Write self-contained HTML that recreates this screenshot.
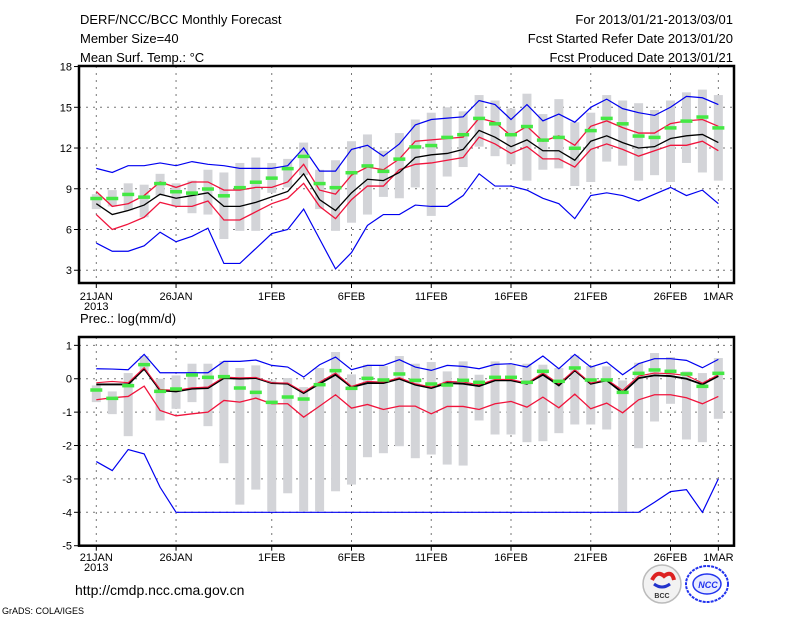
<!DOCTYPE html>
<html><head><meta charset="utf-8"><style>
html,body{margin:0;padding:0;background:#fff;}
svg{display:block;font-family:"Liberation Sans",sans-serif;}
</style></head><body>
<svg id="chart" width="800" height="618" viewBox="0 0 800 618" xmlns="http://www.w3.org/2000/svg">
<text x="80" y="24" font-size="13">DERF/NCC/BCC Monthly Forecast</text>
<text x="80" y="43" font-size="13">Member Size=40</text>
<text x="80" y="62" font-size="13">Mean Surf. Temp.: °C</text>
<text x="733" y="24" font-size="13" text-anchor="end">For 2013/01/21-2013/03/01</text>
<text x="733" y="43" font-size="13" text-anchor="end">Fcst Started Refer Date 2013/01/20</text>
<text x="733" y="62" font-size="13" text-anchor="end">Fcst Produced Date 2013/01/21</text>
<text x="80" y="323" font-size="13">Prec.: log(mm/d)</text>
<text x="75" y="595" font-size="14">http://cmdp.ncc.cma.gov.cn</text>
<text x="2" y="614" font-size="9">GrADS: COLA/IGES</text>
<g>
<circle cx="662" cy="584" r="19" fill="#f2f2f2" stroke="#bbb" stroke-width="1.5"/>
<path d="M652 580 q5 -10 12 -4 q8 -6 10 4" fill="none" stroke="#d22" stroke-width="4"/>
<path d="M654 584 q8 6 16 0" fill="none" stroke="#23c" stroke-width="3"/>
<text x="662" y="598" font-size="7" font-weight="bold" text-anchor="middle" fill="#333">BCC</text>
</g>
<g>
<ellipse cx="707" cy="584" rx="21" ry="18" fill="none" stroke="#23e" stroke-width="2" stroke-dasharray="3,1"/>
<ellipse cx="707" cy="584" rx="14" ry="10" fill="#e8ebff" stroke="#23e" stroke-width="1.5"/>
<text x="708" y="588" font-size="9" font-weight="bold" font-style="italic" text-anchor="middle" fill="#23e">NCC</text>
</g>
</svg>
<script>
const days = ["21JAN","26JAN","1FEB","6FEB","11FEB","16FEB","21FEB","26FEB","1MAR"];
const dayIdx = [0,5,11,16,21,26,31,36,39];
const tTicks = [18,15,12,9,6,3];
const pTicks = [1,0,-1,-2,-3,-4,-5];
const tUpperBlue = [10.5,10.2,10.7,10.7,10.9,10.7,11.0,10.8,10.7,10.5,10.5,10.5,10.7,12.0,10.3,10.3,11.9,12.2,11.4,12.3,13.7,14.1,14.2,14.3,15.5,15.2,14.1,15.2,14.0,14.5,13.9,15.0,15.6,14.9,14.6,14.4,15.0,15.8,15.7,15.2];
const tLowerBlue = [5.0,4.4,4.4,4.8,5.8,5.1,5.5,6.1,3.5,3.5,4.6,5.7,6.0,7.5,5.3,3.1,4.3,6.3,7.1,7.1,7.8,7.7,7.7,8.5,10.1,9.2,9.2,8.9,8.3,7.9,6.8,8.5,8.7,8.5,8.1,8.6,9.1,8.5,8.9,7.9];
const tMean = [7.9,7.1,7.4,7.8,8.6,8.3,8.5,8.7,7.7,7.7,8.0,8.4,8.8,10.1,8.2,7.4,8.7,9.7,9.6,10.2,11.3,11.5,11.6,11.9,13.3,12.8,12.1,12.6,11.8,11.8,11.1,12.5,12.9,12.4,12.0,12.1,12.7,12.9,13.0,12.4];
const tUpperRed = [8.8,7.7,7.9,8.5,9.5,9.1,9.5,9.5,8.9,8.9,9.1,9.1,9.5,10.8,8.9,8.6,10.0,10.6,10.4,11.2,12.5,12.6,12.7,12.8,14.2,13.9,12.9,13.6,12.5,12.9,12.2,13.6,14.0,13.5,13.1,13.1,13.8,14.0,14.1,13.6];
const tLowerRed = [7.1,6.0,6.4,6.9,8.0,7.7,7.7,8.1,6.7,6.7,7.3,7.9,8.3,9.4,7.7,6.8,8.2,9.2,9.2,10.4,10.8,10.9,11.1,11.3,12.8,12.3,11.6,12.1,11.2,11.2,10.6,11.9,12.3,11.9,11.4,11.8,12.2,12.2,12.5,11.8];
const tObs = [8.3,8.3,8.6,8.4,9.4,8.8,8.7,9.0,8.5,9.1,9.5,9.8,10.5,11.4,9.4,9.1,10.2,10.7,10.3,11.2,12.1,12.2,12.8,13.0,14.2,13.8,13.0,13.6,12.6,12.8,12.0,13.3,14.2,13.8,12.9,12.8,13.5,14.0,14.3,13.5];
const tMax = [8.6,8.9,9.4,9.3,10.1,9.4,9.6,10.4,10.2,10.9,11.3,10.9,11.2,12.4,10.4,11.1,12.5,13.0,11.8,13.1,14.1,14.6,15.0,14.7,15.9,15.5,14.9,16.0,14.5,15.6,13.9,14.6,15.9,15.5,15.3,14.8,15.5,16.1,16.3,15.9];
const tMin = [7.5,7.7,7.4,6.9,8.5,7.7,7.2,7.1,5.3,5.9,5.9,8.7,9.1,10.0,7.5,5.9,6.5,7.1,8.4,8.3,9.1,7.0,9.9,10.6,12.1,11.4,10.8,9.6,10.4,10.5,9.2,9.5,11.0,10.7,9.6,10.0,9.5,10.9,10.2,9.6];
const pUpperBlue = [0.30,0.29,0.27,0.73,0.18,0.18,0.18,0.18,0.52,0.52,0.56,0.40,0.35,0.05,0.42,0.65,0.27,0.40,0.40,0.57,0.35,0.25,0.40,0.37,0.30,0.43,0.45,0.35,0.68,0.30,0.73,0.35,0.50,0.12,0.45,0.60,0.60,0.55,0.33,0.58];
const pLowerBlue = [-2.48,-2.75,-2.12,-2.25,-3.25,-4,-4,-4,-4,-4,-4,-4,-4,-4,-4,-4,-4,-4,-4,-4,-4,-4,-4,-4,-4,-4,-4,-4,-4,-4,-4,-4,-4,-4,-4,-3.7,-3.38,-3.32,-4,-3.0];
const pMean = [-0.17,-0.17,-0.17,0.30,-0.35,-0.38,-0.30,-0.28,0.02,0.0,0.02,-0.13,-0.15,-0.43,-0.15,0.12,-0.25,-0.13,-0.13,0.0,-0.18,-0.28,-0.13,-0.15,-0.22,-0.05,-0.05,-0.15,0.12,-0.20,0.25,-0.15,-0.05,-0.42,0.02,0.10,0.08,0.0,-0.17,0.08];
const pUpperRed = [-0.12,-0.08,-0.12,0.33,-0.32,-0.35,-0.27,-0.25,0.05,0.03,0.04,-0.12,-0.13,-0.40,-0.10,0.17,-0.23,-0.08,-0.10,0.03,-0.15,-0.25,-0.08,-0.10,-0.18,-0.02,-0.02,-0.13,0.17,-0.15,0.27,-0.13,-0.02,-0.35,0.08,0.17,0.15,0.10,-0.13,0.12];
const pLowerRed = [-0.63,-0.57,-0.53,-0.22,-0.95,-1.11,-1.05,-1.0,-0.65,-0.70,-0.58,-0.75,-0.75,-1.15,-0.82,-0.48,-0.88,-0.77,-0.92,-0.82,-0.82,-1.05,-0.83,-0.83,-0.92,-0.75,-0.68,-0.85,-0.55,-0.87,-0.46,-0.90,-0.73,-1.02,-0.63,-0.48,-0.48,-0.57,-0.75,-0.53];
const pObs = [-0.33,-0.58,-0.20,0.43,-0.37,-0.30,0.12,0.05,0.07,-0.27,-0.40,-0.70,-0.54,-0.60,-0.17,0.25,-0.28,0.02,-0.03,0.15,-0.04,-0.15,-0.18,-0.04,-0.10,0.05,0.05,-0.10,0.23,-0.07,0.33,-0.03,-0.03,-0.40,0.17,0.27,0.23,0.15,-0.22,0.17];
const pMax = [-0.2,-0.38,0.17,0.68,0.0,0.1,0.45,0.45,0.53,0.32,0.4,-0.05,0.02,-0.25,0.32,0.8,0.13,0.42,0.38,0.68,0.45,0.5,0.22,0.52,0.12,0.52,0.42,0.45,0.42,0.32,0.7,0.38,0.37,-0.05,0.48,0.77,0.65,0.22,0.17,0.62];
const pMin = [-0.7,-1.06,-1.72,0.22,-1.25,-0.9,-0.7,-1.42,-2.53,-3.77,-3.32,-3.97,-3.43,-3.97,-3.97,-3.37,-3.17,-2.35,-2.23,-2.02,-2.38,-2.27,-2.57,-2.6,-1.25,-1.67,-1.67,-1.9,-1.87,-1.63,-1.37,-1.37,-1.52,-3.97,-2.08,-1.28,-0.75,-1.82,-1.9,-1.2];

const NS="http://www.w3.org/2000/svg";
const svg=document.getElementById('chart');
const X0=79,X1=734;
function x(i){return 96.3+15.95*i;}
function mk(tag,attrs,parent){const e=document.createElementNS(NS,tag);for(const k in attrs)e.setAttribute(k,attrs[k]);(parent||svg).appendChild(e);return e;}

function panel(name,top,bot,vmin,vmax,ticks,series,maxA,minA,obs,labY){
  const y=v=>bot-(v-vmin)/(vmax-vmin)*(bot-top);
  const g=mk('g',{});
  
  
  ticks.forEach(t=>{
    const yy=y(t);
    if(yy>top+2&&yy<bot-2){const gl=mk('line',{x1:X0,x2:X1,y1:yy,y2:yy,stroke:'#777','stroke-width':1,'stroke-dasharray':'2,5'},g);
    
    }
    mk('line',{x1:X0-5,x2:X0,y1:yy,y2:yy,stroke:'#000'},g);
    const tl=mk('text',{x:X0-7,y:yy+4,'font-size':11,'text-anchor':'end'},g);
    tl.textContent=t;
    
    
  });
  dayIdx.forEach((d,k)=>{
    const xx=x(d);
    const gl=mk('line',{x1:xx,x2:xx,y1:top,y2:bot,stroke:'#777','stroke-width':1,'stroke-dasharray':'2,5'},g);
    
    
    mk('line',{x1:xx,x2:xx,y1:bot,y2:bot+5,stroke:'#000'},g);
    const tl=mk('text',{x:xx,y:labY,'font-size':11,'text-anchor':'middle'},g);
    tl.textContent=days[k];
    
    
  });
  const yr=mk('text',{x:x(0),y:labY+10,'font-size':11,'text-anchor':'middle'},g);
  yr.textContent='2013';
  
  
  maxA.forEach((mx,i)=>{
    const b=mk('rect',{x:x(i)-4.5,y:y(mx),width:9,height:Math.max(1,y(minA[i])-y(mx)),fill:'#d3d4d8'},g);
    
    
  });
  series.forEach(s=>{
    const p=mk('polyline',{points:s.d.map((v,i)=>x(i)+','+y(v)).join(' '),fill:'none',stroke:s.c,'stroke-width':s.w},g);
    
    
  });
  obs.forEach((v,i)=>{
    const r=mk('rect',{x:x(i)-6,y:y(v)-1.5,width:12,height:3.5,fill:'#44e844'},g);
    
    
  });
  const box=mk('rect',{x:X0,y:top,width:X1-X0,height:bot-top,fill:'none',stroke:'#000','stroke-width':2.5},g);
  
  
}
panel('temperature-panel',66,283,2.06,18.04,tTicks,[
 {d:tUpperBlue,c:'#0000f0',w:1.2,n:'temp-upper-blue-line'},
 {d:tLowerBlue,c:'#0000f0',w:1.2,n:'temp-lower-blue-line'},
 {d:tUpperRed,c:'#f0143c',w:1.3,n:'temp-upper-red-line'},
 {d:tLowerRed,c:'#f0143c',w:1.3,n:'temp-lower-red-line'},
 {d:tMean,c:'#000',w:1.3,n:'temp-mean-line'}],tMax,tMin,tObs,300);
panel('precip-panel',337,545.7,-5,1.25,pTicks,[
 {d:pUpperBlue,c:'#0000f0',w:1.2,n:'prec-upper-blue-line'},
 {d:pLowerBlue,c:'#0000f0',w:1.2,n:'prec-lower-blue-line'},
 {d:pLowerRed,c:'#f0143c',w:1.3,n:'prec-lower-red-line'},
 {d:pMean,c:'#000',w:1.8,n:'prec-mean-line'},
 {d:pUpperRed,c:'#f0143c',w:1.1,n:'prec-upper-red-line'}],pMax,pMin,pObs,561);
</script>
</body></html>
